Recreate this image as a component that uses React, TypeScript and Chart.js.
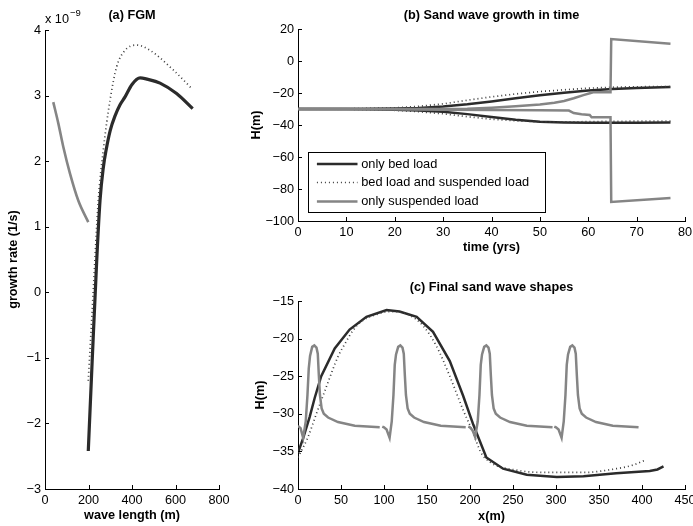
import React, { useEffect, useRef } from "react";
import { Chart, registerables } from "chart.js";
Chart.register(...registerables);

const FONT = '"Liberation Sans", Arial, Helvetica, sans-serif';
const FS = 12.7;
Chart.defaults.font.family = FONT;
Chart.defaults.font.size = FS;
Chart.defaults.color = "#000";

const BLACK = "#2b2b2b";
const GRAY = "#858585";
const DOT = "#3c3c3c";
const DOT_W = 1.7;
const DOT_DASH = [1, 3];

// ---------- (a) FGM ----------
const fgmXTicks = [0, 800, 200];
const fgmYTicks = [-3, 4, 1];
const fgmSusX = [38, 61, 84, 115, 153, 199];
const fgmSusY = [2.9, 2.58, 2.22, 1.81, 1.4, 1.07];
const fgmBedX = [199, 217, 238, 253, 268, 281, 300, 322, 345, 368, 400, 437, 470, 529, 605, 679];
const fgmBedY = [-2.42, -1.04, 0.5, 1.4, 1.9, 2.17, 2.47, 2.69, 2.86, 2.98, 3.17, 3.27, 3.25, 3.19, 3.03, 2.8];
const fgmBothX = [199, 222, 245, 268, 299, 329.5, 368, 422, 483, 590, 674];
const fgmBothY = [-1.35, 0.03, 1.4, 2.17, 2.93, 3.44, 3.69, 3.77, 3.69, 3.39, 3.11];

// ---------- (b) growth in time ----------
const timeXTicks = [0, 80, 10];
const timeYTicks = [-100, 20, 20];
const timeT = [0, 10, 20, 25, 30, 35, 40, 45, 50, 55, 60, 65, 70, 77];
const bedUpH = [-30, -30, -29.7, -29.3, -28.5, -27.1, -25.3, -23.3, -21.4, -19.8, -18.5, -17.5, -16.9, -16.3];
const bedLoH = [-30, -30, -30.4, -30.9, -31.7, -33.2, -35, -36.7, -37.9, -38.4, -38.6, -38.6, -38.6, -38.5];
const bothUpH = [-30, -29.9, -29.3, -28.3, -26.8, -24.5, -22.4, -20.6, -19.1, -18, -17, -16.4, -16.1, -16];
const bothLoH = [-30, -30.1, -30.8, -31.7, -33, -34.8, -36.4, -37.4, -38, -38.1, -37.9, -37.7, -37.6, -37.5];
const susUpT = [0, 20, 30, 35, 40, 45, 50, 53, 55, 57, 59, 60.5, 61, 64.6, 64.75, 77];
const susUpH = [-30, -30, -30, -29.8, -29.2, -28.3, -27.2, -26.1, -25, -23.3, -21.3, -20, -19.6, -19.6, 13.7, 10.8];
const susLoT = [0, 20, 30, 40, 50, 56, 57, 58.6, 60.3, 60.7, 64.6, 64.75, 77];
const susLoH = [-30, -30.2, -30.5, -30.6, -30.8, -31, -32.5, -33.3, -33.7, -35.2, -35.2, -88.1, -85.6];
const legendLabels = ["only bed load", "bed load and suspended load", "only suspended load"];

// ---------- (c) final shapes ----------
const shapeXTicks = [0, 450, 50];
const shapeYTicks = [-40, -15, 5];
const shapeBedX = [0, 5.8, 13.6, 19.4, 27, 42.7, 60, 79.6, 103, 118, 138, 157, 176.5, 192, 204, 219, 238.5, 266, 301, 332, 370, 409, 418, 425];
const shapeBedY = [-35.2, -33.3, -30.4, -27.9, -25, -21.3, -18.8, -17.1, -16.2, -16.4, -17.1, -19.1, -23, -27.6, -31.5, -35.8, -37.3, -38.1, -38.4, -38.3, -37.9, -37.6, -37.4, -37];
const shapeBothX = [0, 11.6, 22, 33, 46.5, 55, 64, 75, 91, 107, 120, 130, 145.5, 161, 176.5, 192, 204, 212, 223, 254, 293, 332, 370, 390, 405];
const shapeBothY = [-35.8, -33.1, -29.8, -26.4, -22.4, -20.6, -18.9, -17.6, -16.8, -16.4, -16.5, -16.9, -18.3, -21, -25, -29.5, -32.6, -35, -36.4, -37.5, -37.8, -37.8, -37.3, -36.8, -36.1];
const susSeg1X = [0, 3, 6, 9, 11, 12.5, 14, 16.5, 19, 21.5, 23, 24.3, 25.5, 27.5, 30, 35, 46.5, 66, 95];
const susSeg1Y = [-31.6, -31.9, -33.2, -31, -27.5, -24, -22.3, -21.1, -20.9, -21.2, -22, -25, -27.5, -29.3, -30, -30.5, -31.1, -31.6, -31.8];
const susSeg2X = [98, 100, 103, 106.5, 109, 111, 112.5, 114, 116.5, 119, 121.5, 123, 124.3, 125.5, 127.5, 130, 135, 146.5, 166, 195];
const susSeg2Y = [-31.7, -31.8, -32.1, -33.2, -31, -27.5, -23.5, -22.1, -21.1, -20.9, -21.2, -22, -25, -27.5, -29.3, -30, -30.5, -31.1, -31.6, -31.8];
const susSeg3X = [198, 200, 203, 206, 209, 211, 212.5, 214, 216.5, 219, 221.5, 223, 224.3, 225.5, 227.5, 230, 235, 246.5, 266, 296];
const susSeg3Y = [-31.7, -31.8, -32.2, -33.1, -31, -27.5, -23.5, -22.1, -21.1, -20.9, -21.2, -22, -25, -27.5, -29.3, -30, -30.5, -31.1, -31.6, -31.8];
const susSeg4X = [298, 300, 303, 306.5, 309, 311, 312.5, 314, 316.5, 319, 321.5, 323, 324.3, 325.5, 327.5, 330, 335, 346.5, 366, 396];
const susSeg4Y = [-31.7, -31.8, -32.1, -33.2, -31, -27.5, -23.5, -22.1, -21.1, -20.9, -21.2, -22, -25, -27.5, -29.3, -30, -30.5, -31.1, -31.6, -31.8];

const pts = (xs: number[], ys: number[]) => xs.map((x, i) => ({ x, y: ys[i] }));
const joinSegs = (segs: [number[], number[]][]) => {
  const out: { x: number; y: number | null }[] = [];
  segs.forEach(([xs, ys], k) => {
    if (k > 0) out.push({ x: (out[out.length - 1].x + xs[0]) / 2, y: null });
    out.push(...pts(xs, ys));
  });
  return out;
};
const fmt = (v: number) => (v < 0 ? "\u2212" + Math.abs(v) : String(v));

function xAxis(t: number[], height: number, title: string, titlePad: number) {
  return {
    type: "linear",
    position: "bottom",
    min: t[0],
    max: t[1],
    grid: { display: false, drawTicks: false },
    border: { display: true, color: "#000", width: 1 },
    ticks: { stepSize: t[2], autoSkip: false, maxRotation: 0, padding: 4, color: "#000", font: { size: FS }, callback: (v: any) => fmt(Number(v)) },
    title: { display: true, text: title, color: "#000", font: { size: FS, weight: "bold" }, padding: { top: 0, bottom: titlePad } },
    afterFit: (s: any) => {
      s.height = height;
      s.paddingLeft = 0;
      s.paddingRight = 0;
    },
  };
}
function yAxis(t: number[], width: number, title: string, titlePad: number) {
  return {
    type: "linear",
    position: "left",
    min: t[0],
    max: t[1],
    grid: { display: false, drawTicks: false },
    border: { display: true, color: "#000", width: 1 },
    ticks: { stepSize: t[2], autoSkip: false, padding: 4, color: "#000", font: { size: FS }, callback: (v: any) => fmt(Number(v)) },
    title: { display: true, text: title, color: "#000", font: { size: FS, weight: "bold" }, padding: { top: titlePad, bottom: 0 } },
    afterFit: (s: any) => {
      s.width = width;
      s.paddingTop = 0;
      s.paddingBottom = 0;
    },
  };
}

function decor(title: string, titleY: number, extra?: (ctx: CanvasRenderingContext2D, ca: any) => void) {
  return {
    id: "decor",
    afterDraw(chart: any) {
      const { ctx, chartArea: ca, scales } = chart;
      ctx.save();
      ctx.strokeStyle = "#000";
      ctx.lineWidth = 1;
      for (const t of scales.x.ticks) {
        const p = Math.round(scales.x.getPixelForValue(t.value)) + 0.5;
        ctx.beginPath();
        ctx.moveTo(p, ca.bottom);
        ctx.lineTo(p, ca.bottom - 4);
        ctx.stroke();
      }
      for (const t of scales.y.ticks) {
        const p = Math.round(scales.y.getPixelForValue(t.value)) + 0.5;
        ctx.beginPath();
        ctx.moveTo(ca.left, p);
        ctx.lineTo(ca.left + 4, p);
        ctx.stroke();
      }
      ctx.fillStyle = "#000";
      ctx.font = `bold ${FS}px ${FONT}`;
      ctx.textAlign = "center";
      ctx.textBaseline = "middle";
      ctx.fillText(title, (ca.left + ca.right) / 2, titleY);
      if (extra) extra(ctx, ca);
      ctx.restore();
    },
  };
}

const line = (label: string, data: any[], color: string, width: number, opts: any = {}) => ({
  label,
  data,
  borderColor: color,
  backgroundColor: color,
  borderWidth: width,
  pointRadius: 0,
  fill: false,
  spanGaps: false,
  tension: 0,
  ...opts,
});

const baseOptions = (layoutPad: any, x: any, y: any) => ({
  responsive: false,
  animation: false,
  events: [],
  layout: { padding: layoutPad },
  plugins: { legend: { display: false }, tooltip: { enabled: false }, title: { display: false } },
  scales: { x, y },
});

function cfgA(): any {
  return {
    type: "line",
    data: {
      datasets: [
        line("only suspended load", pts(fgmSusX, fgmSusY), GRAY, 2.6, { cubicInterpolationMode: "monotone" }),
        line("bed load and suspended load", pts(fgmBothX, fgmBothY), DOT, DOT_W, { borderDash: DOT_DASH, cubicInterpolationMode: "monotone" }),
        line("only bed load", pts(fgmBedX, fgmBedY), BLACK, 3.2, { cubicInterpolationMode: "monotone" }),
      ],
    },
    options: baseOptions(
      { left: 0, top: 30, right: 21, bottom: 0 },
      xAxis(fgmXTicks, 37, "wave length (m)", 3),
      yAxis(fgmYTicks, 45, "growth rate (1/s)", 5.6)
    ),
    plugins: [
      decor("(a) FGM", 15, (ctx, ca) => {
        ctx.font = `${FS}px ${FONT}`;
        ctx.textAlign = "left";
        ctx.fillText("x 10", ca.left, 19);
        const w = ctx.measureText("x 10").width;
        ctx.font = `9.5px ${FONT}`;
        ctx.fillText("\u22129", ca.left + w + 1, 13);
      }),
    ],
  };
}

function cfgB(): any {
  return {
    type: "line",
    data: {
      datasets: [
        line("only suspended load", pts(susUpT, susUpH), GRAY, 2.5),
        line("only suspended load", pts(susLoT, susLoH), GRAY, 2.5),
        line("bed load and suspended load", pts(timeT, bothUpH), DOT, DOT_W, { borderDash: DOT_DASH }),
        line("bed load and suspended load", pts(timeT, bothLoH), DOT, DOT_W, { borderDash: DOT_DASH }),
        line("only bed load", pts(timeT, bedUpH), BLACK, 2.5),
        line("only bed load", pts(timeT, bedLoH), BLACK, 2.5),
      ],
    },
    options: baseOptions(
      { left: 0, top: 29, right: 8, bottom: 0 },
      xAxis(timeXTicks, 39, "time (yrs)", 4.6),
      yAxis(timeYTicks, 58, "H(m)", 8.6)
    ),
    plugins: [
      decor("(b) Sand wave growth in time", 15.5, (ctx, ca) => {
        const bx = Math.round(ca.left + 10) + 0.5;
        const by = Math.round(ca.top + 123.4) + 0.5;
        const bw = 237;
        const bh = 60;
        ctx.fillStyle = "#fff";
        ctx.fillRect(bx, by, bw, bh);
        ctx.strokeStyle = "#000";
        ctx.lineWidth = 1;
        ctx.strokeRect(bx, by, bw, bh);
        const rows = [11.6, 30, 49];
        const styles = [
          { c: BLACK, w: 2.5, d: [] as number[] },
          { c: DOT, w: DOT_W, d: DOT_DASH },
          { c: GRAY, w: 2.5, d: [] as number[] },
        ];
        rows.forEach((ry, i) => {
          const y = by + ry;
          ctx.strokeStyle = styles[i].c;
          ctx.lineWidth = styles[i].w;
          ctx.setLineDash(styles[i].d);
          ctx.beginPath();
          ctx.moveTo(bx + 8.4, y);
          ctx.lineTo(bx + 49, y);
          ctx.stroke();
          ctx.setLineDash([]);
          ctx.fillStyle = "#000";
          ctx.font = `12.8px ${FONT}`;
          ctx.textAlign = "left";
          ctx.textBaseline = "middle";
          ctx.fillText(legendLabels[i], bx + 52.7, y);
        });
      }),
    ],
  };
}

function cfgC(): any {
  return {
    type: "line",
    data: {
      datasets: [
        line(
          "only suspended load",
          joinSegs([
            [susSeg1X, susSeg1Y],
            [susSeg2X, susSeg2Y],
            [susSeg3X, susSeg3Y],
            [susSeg4X, susSeg4Y],
          ]),
          GRAY,
          2.5
        ),
        line("bed load and suspended load", pts(shapeBothX, shapeBothY), DOT, DOT_W, { borderDash: DOT_DASH, cubicInterpolationMode: "monotone" }),
        line("only bed load", pts(shapeBedX, shapeBedY), BLACK, 2.5),
      ],
    },
    options: baseOptions(
      { left: 0, top: 41, right: 8, bottom: 0 },
      xAxis(shapeXTicks, 37, "x(m)", 1.6),
      yAxis(shapeYTicks, 58, "H(m)", 12.6)
    ),
    plugins: [decor("(c) Final sand wave shapes", 27, undefined)],
  };
}

export default function App() {
  const aRef = useRef<HTMLCanvasElement>(null);
  const bRef = useRef<HTMLCanvasElement>(null);
  const cRef = useRef<HTMLCanvasElement>(null);
  useEffect(() => {
    const charts = [
      new Chart(aRef.current as HTMLCanvasElement, cfgA()),
      new Chart(bRef.current as HTMLCanvasElement, cfgB()),
      new Chart(cRef.current as HTMLCanvasElement, cfgC()),
    ];
    return () => charts.forEach((c) => c.destroy());
  }, []);
  const cs = (l: number, t: number, w: number, h: number): React.CSSProperties => ({
    position: "absolute",
    left: l,
    top: t,
    width: w,
    height: h,
  });
  return (
    <div style={{ position: "absolute", left: 0, top: 0, width: 693, height: 526, background: "#fff", overflow: "hidden" }}>
      <canvas ref={aRef} width={240} height={526} style={cs(0, 0, 240, 526)} />
      <canvas ref={bRef} width={453} height={260} style={cs(240, 0, 453, 260)} />
      <canvas ref={cRef} width={453} height={266} style={cs(240, 260, 453, 266)} />
    </div>
  );
}
